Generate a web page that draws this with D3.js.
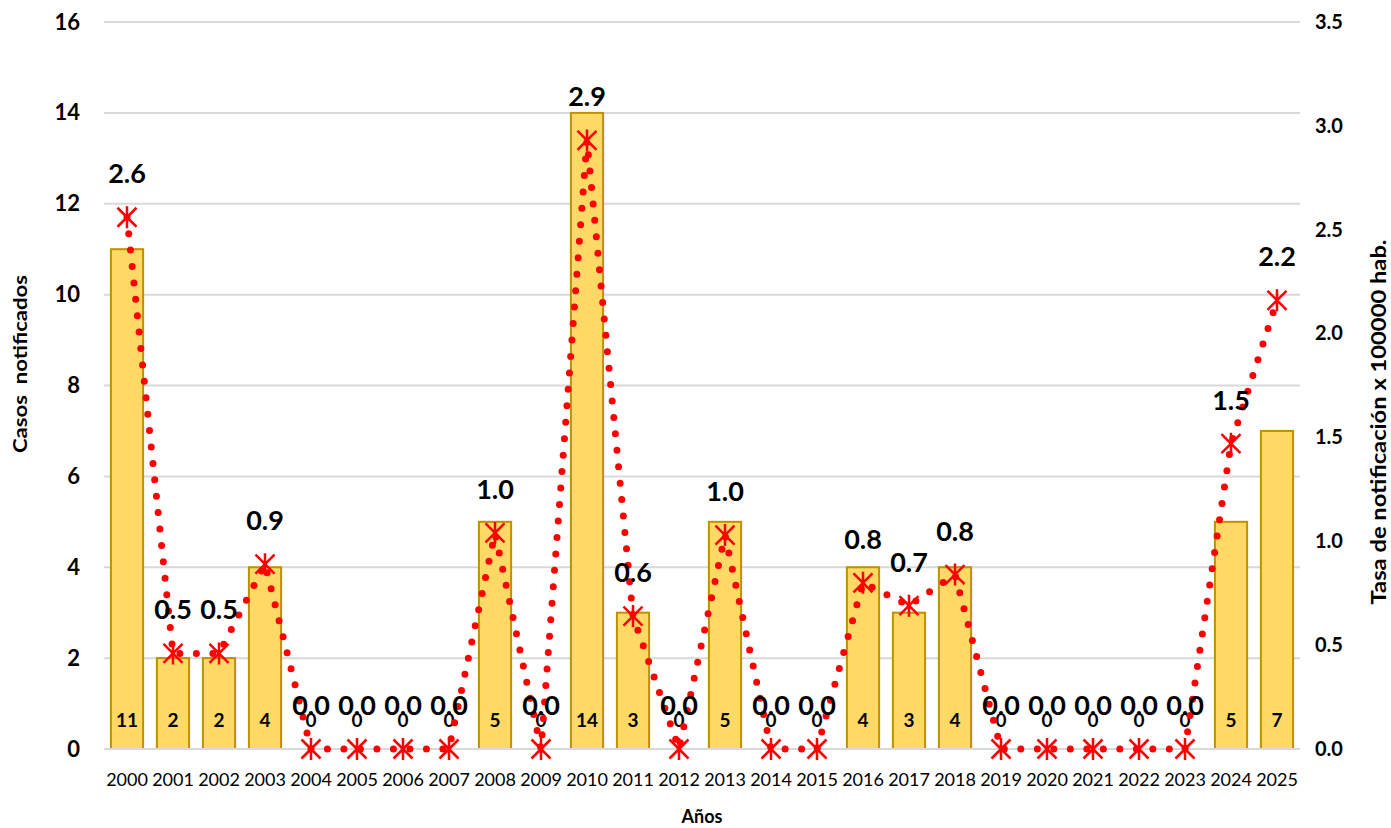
<!DOCTYPE html>
<html><head><meta charset="utf-8">
<script src="https://cdn.jsdelivr.net/npm/d3@7"></script>
<style>
body{margin:0;background:#fff;}
text{font-family:Lato,"Open Sans",sans-serif;}
</style></head>
<body><svg id="c" width="1391" height="828"></svg>
<script>
const years = ["2000","2001","2002","2003","2004","2005","2006","2007","2008","2009","2010","2011","2012","2013","2014","2015","2016","2017","2018","2019","2020","2021","2022","2023","2024","2025"];
const cases = [11,2,2,4,0,0,0,0,5,0,14,3,0,5,0,0,4,3,4,0,0,0,0,0,5,7];
const rates = [2.56,0.46,0.46,0.89,0,0,0,0,1.04,0,2.93,0.64,0,1.03,0,0,0.80,0.69,0.84,0,0,0,0,0,1.47,2.16];
const leftTicks = [0,2,4,6,8,10,12,14,16];
const rightTicks = [0,0.5,1.0,1.5,2.0,2.5,3.0,3.5];

const svg = d3.select("#c");
const x = d3.scaleBand().domain(years).range([104,1300]).paddingInner(0.3).paddingOuter(0.15);
const yL = d3.scaleLinear().domain([0,16]).range([749,22]);
const yR = d3.scaleLinear().domain([0,3.5]).range([749,22]);

// gridlines
svg.append("g").selectAll("line").data(leftTicks).join("line")
  .attr("x1",104).attr("x2",1300)
  .attr("y1",d=>yL(d)).attr("y2",d=>yL(d))
  .attr("stroke","#d9d9d9").attr("stroke-width",2);

// left axis
const axL = svg.append("g").attr("transform","translate(104,0)")
  .call(d3.axisLeft(yL).tickValues(leftTicks).tickSize(0).tickPadding(24).tickFormat(d3.format("d")));
axL.select(".domain").remove();
axL.selectAll("text").attr("font-family","Lato").attr("font-weight","bold").attr("font-size",22).attr("fill","#000");

// right axis
const axR = svg.append("g").attr("transform","translate(1300,0)")
  .call(d3.axisRight(yR).tickValues(rightTicks).tickSize(0).tickPadding(15).tickFormat(d3.format(".1f")));
axR.select(".domain").remove();
axR.selectAll("text").attr("font-family","DejaVu Sans").attr("font-weight","bold").attr("font-size",20).attr("fill","#000");

// x axis
const axX = svg.append("g").attr("transform","translate(0,749)")
  .call(d3.axisBottom(x).tickSize(0).tickPadding(24));
axX.select(".domain").remove();
axX.selectAll("text").attr("font-family","Lato").attr("font-size",18).attr("fill","#000");

// bars
svg.append("g").selectAll("rect").data(years).join("rect")
  .attr("x",d=>x(d)).attr("width",x.bandwidth())
  .attr("y",(d,i)=>yL(cases[i])).attr("height",(d,i)=>yL(0)-yL(cases[i]))
  .attr("fill","#FFD966").attr("stroke","#BF9000").attr("stroke-width",2);

// baseline
svg.append("line").attr("x1",104).attr("x2",1300).attr("y1",yL(0)).attr("y2",yL(0))
  .attr("stroke","#d9d9d9").attr("stroke-width",2);

// case labels
svg.append("g").selectAll("text").data(years).join("text")
  .attr("x",d=>x(d)+x.bandwidth()/2).attr("y",727)
  .attr("text-anchor","middle").attr("font-weight","bold").attr("font-size",19)
  .text((d,i)=>cases[i]);

// rate line (round-dot dotted line)
const cx = d=>x(d)+x.bandwidth()/2;
const line = d3.line().x((d,i)=>cx(years[i])).y(d=>yR(d)).curve(d3.curveLinear);
svg.append("path").attr("d",line(rates)).attr("fill","none")
  .attr("stroke","#FF0000").attr("stroke-width",7).attr("stroke-linecap","round")
  .attr("stroke-linejoin","round").attr("stroke-dasharray","0 16.5");

// markers
svg.append("g").selectAll("path").data(rates).join("path")
  .attr("transform",(d,i)=>`translate(${cx(years[i])},${yR(d)})`)
  .attr("d","M-9.5,-9.5L9.5,9.5M9.5,-9.5L-9.5,9.5M0,-11L0,11")
  .attr("stroke","#FF0000").attr("stroke-width",2.5).attr("fill","none");

// rate labels
svg.append("g").selectAll("text").data(rates).join("text")
  .attr("x",(d,i)=>cx(years[i])).attr("y",d=>yR(d)-34)
  .attr("text-anchor","middle").attr("font-weight","bold").attr("font-size",27)
  .text(d=>d.toFixed(1));

// axis titles
svg.append("text").attr("transform","translate(27,364) rotate(-90)")
  .attr("text-anchor","middle").attr("font-weight","bold").attr("font-size",19)
  .attr("textLength",178).attr("lengthAdjust","spacingAndGlyphs")
  .attr("xml:space","preserve").text("Casos  notificados");
svg.append("text").attr("transform","translate(1386,422) rotate(-90)")
  .attr("text-anchor","middle").attr("font-weight","bold").attr("font-size",20)
  .attr("textLength",365).attr("lengthAdjust","spacingAndGlyphs")
  .text("Tasa de notificación x 100000 hab.");
svg.append("text").attr("x",702).attr("y",823)
  .attr("text-anchor","middle").attr("font-weight","bold").attr("font-size",18)
  .text("Años");
</script></body></html>
